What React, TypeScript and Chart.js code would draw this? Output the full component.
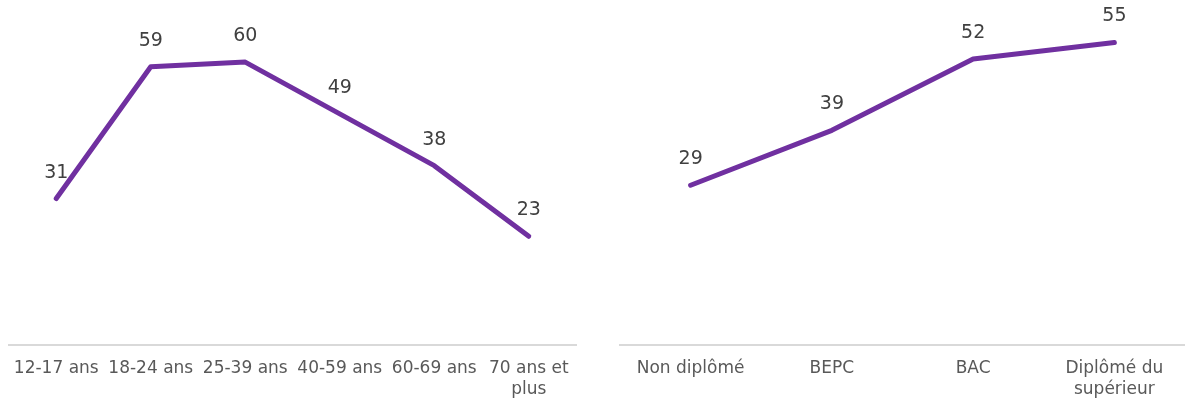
import React, { useEffect, useRef } from "react";
import { Chart, registerables } from "chart.js";

Chart.register(...registerables);

const ageCategories: (string | string[])[] = [
  "12-17 ans",
  "18-24 ans",
  "25-39 ans",
  "40-59 ans",
  "60-69 ans",
  ["70 ans et", "plus"],
];
const ageValues = [31, 59, 60, 49, 38, 23];

const eduCategories: (string | string[])[] = [
  "Non diplômé",
  "BEPC",
  "BAC",
  ["Diplômé du", "supérieur"],
];
const eduValues = [29, 39, 52, 55];

const FONT = "'DejaVu Sans', Verdana, sans-serif";
const LINE_COLOR = "#7030A0";
const CANVAS_H = 413;

const dataLabelPlugin = {
  id: "dataLabels",
  afterDatasetsDraw(chart: any) {
    const ctx = chart.ctx;
    const ds = chart.data.datasets[0];
    const meta = chart.getDatasetMeta(0);
    ctx.save();
    ctx.font = `19px ${FONT}`;
    ctx.fillStyle = "#404040";
    ctx.textAlign = "center";
    ctx.textBaseline = "middle";
    meta.data.forEach((pt: any, i: number) => {
      ctx.fillText(String(ds.data[i]), pt.x, pt.y - 26);
    });
    ctx.restore();
  },
};

function LineChart(props: {
  labels: (string | string[])[];
  values: number[];
  max: number;
  width: number;
  padLeft: number;
  padRight: number;
}) {
  const ref = useRef<HTMLCanvasElement>(null);
  useEffect(() => {
    if (!ref.current) return;
    const chart = new Chart(ref.current, {
      type: "line",
      data: {
        labels: props.labels,
        datasets: [
          {
            data: props.values,
            borderColor: LINE_COLOR,
            backgroundColor: LINE_COLOR,
            borderWidth: 5,
            pointRadius: 0,
            pointHoverRadius: 0,
            tension: 0,
            borderCapStyle: "round",
            borderJoinStyle: "round",
            fill: false,
          },
        ],
      },
      options: {
        responsive: false,
        animation: false,
        layout: {
          padding: { top: 15, left: props.padLeft, right: props.padRight, bottom: 0 },
        },
        plugins: {
          legend: { display: false },
          tooltip: { enabled: false },
          title: { display: false },
        },
        scales: {
          x: {
            offset: true,
            grid: { display: false, drawTicks: false },
            border: { display: true, color: "#d9d9d9", width: 2 },
            ticks: {
              autoSkip: false,
              maxRotation: 0,
              minRotation: 0,
              padding: 13,
              color: "#595959",
              font: { family: FONT, size: 17, lineHeight: 1.25 },
            },
          },
          y: {
            display: false,
            min: 0,
            max: props.max,
          },
        },
      },
      plugins: [dataLabelPlugin],
    });
    return () => chart.destroy();
  }, []);
  return (
    <canvas
      ref={ref}
      width={props.width}
      height={CANVAS_H}
      style={{ width: props.width, height: CANVAS_H, display: "block" }}
    />
  );
}

export default function App() {
  return (
    <div
      style={{
        position: "absolute",
        left: 0,
        top: 0,
        width: 1185,
        height: 406,
        background: "#ffffff",
        overflow: "hidden",
      }}
    >
      <div style={{ position: "absolute", left: 0, top: 0 }}>
        <LineChart
          labels={ageCategories}
          values={ageValues}
          max={70}
          width={600}
          padLeft={9}
          padRight={24}
        />
      </div>
      <div style={{ position: "absolute", left: 600, top: 0 }}>
        <LineChart
          labels={eduCategories}
          values={eduValues}
          max={60}
          width={585}
          padLeft={20}
          padRight={0}
        />
      </div>
    </div>
  );
}
